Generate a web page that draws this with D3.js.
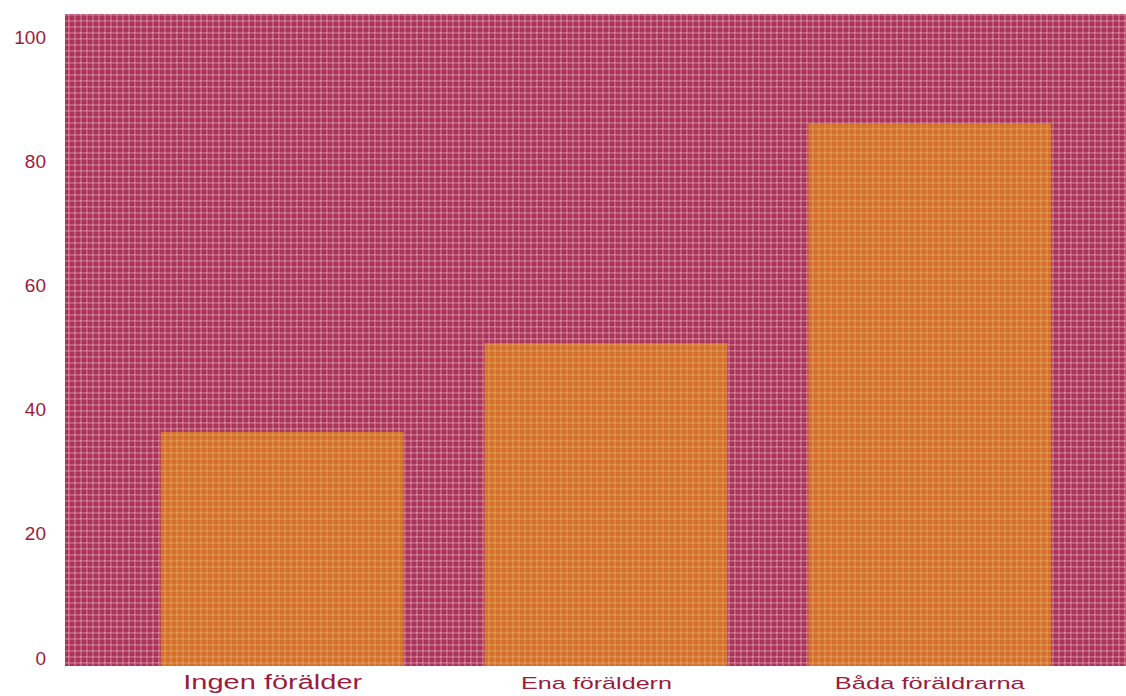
<!DOCTYPE html>
<html>
<head>
<meta charset="utf-8">
<script src="https://cdn.jsdelivr.net/npm/d3@7"></script>
<style>
  html, body { margin: 0; padding: 0; background: #ffffff; overflow: hidden; }
  svg { display: block; }
</style>
</head>
<body>
<script>
// Andel (%) per grupp
const categories = ["Ingen förälder", "Ena föräldern", "Båda föräldrarna"];
const values = [37.7, 52.0, 87.4];
const yTicks = [0, 20, 40, 60, 80, 100];
const labelSizes = [20, 17, 17];
const labelWidths = [179, 151, 190];
const labelShift = [-9.5, -9.5, 0];

const W = 1126, H = 696;
const plot = { left: 65, top: 14, right: 1147, bottom: 666 };

const svg = d3.select("body").append("svg")
  .attr("width", W).attr("height", H);

const defs = svg.append("defs");

// Woven texture for the plot background and bars
function weave(id, base, line, dot, lineOpacity) {
  const p = defs.append("pattern")
    .attr("id", id).attr("patternUnits", "userSpaceOnUse")
    .attr("width", 6).attr("height", 6);
  p.append("rect").attr("width", 6).attr("height", 6).attr("fill", base);
  p.append("rect").attr("x", 0).attr("y", 2).attr("width", 6).attr("height", 2)
    .attr("fill", line).attr("opacity", lineOpacity);
  p.append("rect").attr("x", 2).attr("y", 0).attr("width", 2).attr("height", 6)
    .attr("fill", line).attr("opacity", lineOpacity);
  p.append("rect").attr("x", 2).attr("y", 2).attr("width", 1).attr("height", 1)
    .attr("fill", dot);
}
weave("bgWeave", "#a83459", "#d67c94", "#eaa8b8", 0.55);
weave("barWeave", "#d46f2c", "#e89a58", "#f0b070", 0.45);

const x = d3.scaleBand()
  .domain(categories)
  .range([plot.left, plot.right])
  .paddingInner(0.25)
  .paddingOuter(0.296);

const y = d3.scaleLinear()
  .domain([0, 105])
  .range([plot.bottom, plot.top]);

// Plot area
svg.append("rect")
  .attr("x", plot.left).attr("y", plot.top)
  .attr("width", plot.right - plot.left)
  .attr("height", plot.bottom - plot.top)
  .attr("fill", "url(#bgWeave)");

// Bars
svg.append("g").selectAll("rect")
  .data(values)
  .join("rect")
  .attr("x", (d, i) => x(categories[i]))
  .attr("width", x.bandwidth())
  .attr("y", d => y(d))
  .attr("height", d => y(0) - y(d))
  .attr("fill", "url(#barWeave)");

// Y axis labels (baseline sits just above the tick value)
const yAxis = d3.axisLeft(y).tickValues(yTicks).tickSize(0).tickPadding(0);
const gy = svg.append("g")
  .attr("transform", `translate(${plot.left - 19},0)`)
  .call(yAxis);
gy.select(".domain").remove();
gy.selectAll("text")
  .attr("dy", "-2")
  .attr("x", 0)
  .attr("fill", "#9b1b3b")
  .attr("font-family", "Liberation Sans, Arial, sans-serif")
  .attr("font-size", 19)
  .attr("text-anchor", "end");

// Category labels
const xAxis = d3.axisBottom(x).tickSize(0).tickPadding(0);
const gx = svg.append("g")
  .attr("transform", `translate(0,${plot.bottom})`)
  .call(xAxis);
gx.select(".domain").remove();
gx.selectAll("text")
  .attr("y", 23)
  .attr("dy", "0")
  .attr("dx", (d, i) => labelShift[i])
  .attr("fill", "#9b1b3b")
  .attr("font-family", "Liberation Sans, Arial, sans-serif")
  .attr("font-size", (d, i) => labelSizes[i])
  .attr("textLength", (d, i) => labelWidths[i])
  .attr("lengthAdjust", "spacingAndGlyphs")
  .attr("text-anchor", "middle");
</script>
</body>
</html>
